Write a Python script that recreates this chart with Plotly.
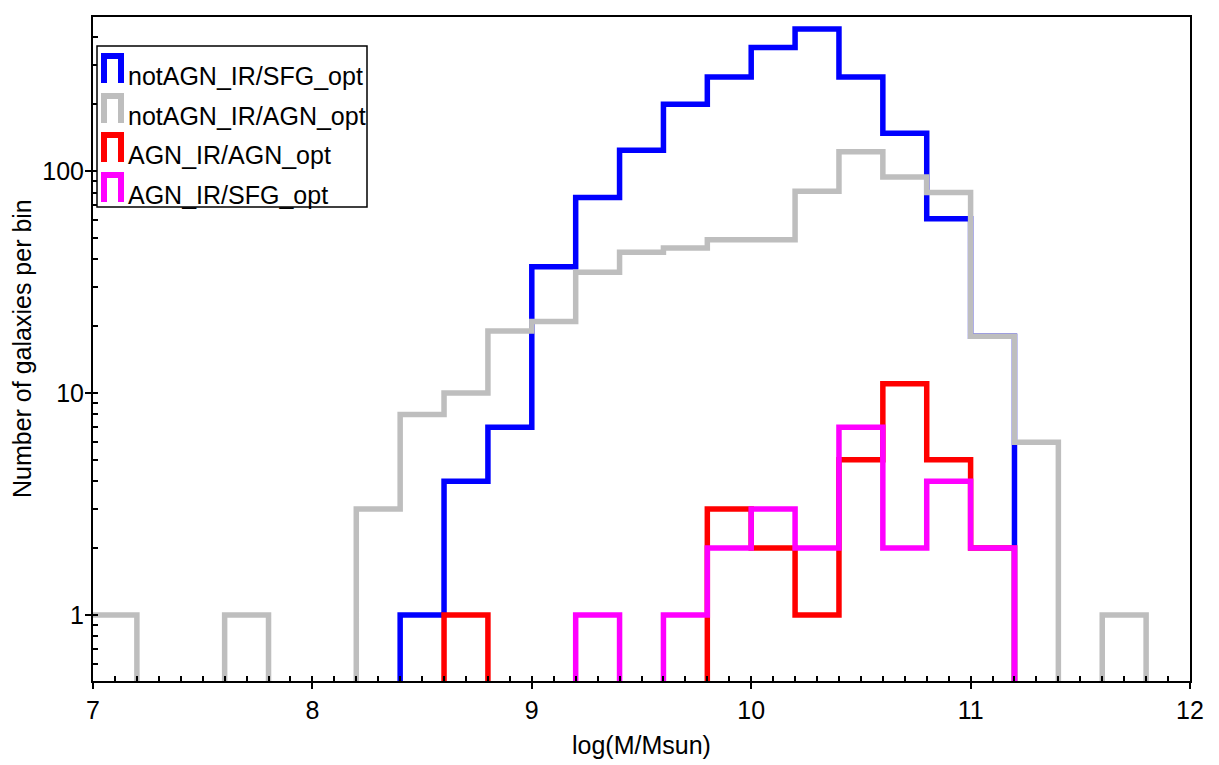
import math
import plotly.graph_objects as go

# ---------------- data ----------------
bin_edges = [round(7.0 + 0.2 * i, 1) for i in range(26)]  # 7.0 ... 12.0

# counts per 0.2-dex bin (left edges 7.0 ... 11.8)
notagn_sfg = [0, 0, 0, 0, 0, 0, 0, 1, 4, 7, 37, 76, 124, 200, 265, 360, 436, 265, 148, 61, 18, 0, 0, 0, 0]
notagn_agn = [1, 0, 0, 1, 0, 0, 3, 8, 10, 19, 21, 35, 43, 45, 49, 49, 81, 122, 94, 80, 18, 6, 0, 1, 0]
agn_agn    = [0, 0, 0, 0, 0, 0, 0, 0, 1, 0, 0, 0, 0, 0, 3, 2, 1, 5, 11, 5, 2, 0, 0, 0, 0]
agn_sfg    = [0, 0, 0, 0, 0, 0, 0, 0, 0, 0, 0, 1, 0, 1, 2, 3, 2, 7, 2, 4, 2, 0, 0, 0, 0]

series_names = ["notAGN_IR/SFG_opt", "notAGN_IR/AGN_opt", "AGN_IR/AGN_opt", "AGN_IR/SFG_opt"]
series_vals = [notagn_sfg, notagn_agn, agn_agn, agn_sfg]
series_colors = ["#0000ff", "#bebebe", "#ff0000", "#ff00ff"]

x_ticks = [7, 8, 9, 10, 11, 12]
y_ticks = [1, 10, 100]
y_minor = [0.6, 0.7, 0.8, 0.9, 2, 3, 4, 5, 6, 7, 8, 9, 20, 30, 40, 50, 60, 70, 80, 90, 200, 300, 400]

FONT = "Liberation Sans, Arial, Helvetica, sans-serif"
FS = 25
W, H = 1219, 765
L, R, T, B = 93, 29, 17, 84
PW, PH = W - L - R, H - T - B

FLOOR = 1e-3  # empty bins fall below the visible range

fig = go.Figure()
for name, vals, col in zip(series_names, series_vals, series_colors):
    ys = [v if v > 0 else FLOOR for v in vals] + [FLOOR]
    fig.add_trace(go.Scatter(x=bin_edges, y=ys, mode="lines", name=name,
                             line=dict(color=col, width=5.5, shape="hv"),
                             showlegend=False, hoverinfo="skip"))

# invisible trace for overlay axes (inside ticks)
fig.add_trace(go.Scatter(x=[7, 12], y=[1, 1], xaxis="x2", yaxis="y2", mode="markers",
                         marker=dict(opacity=0), showlegend=False, hoverinfo="skip"))

yr = [math.log10(0.504), math.log10(494)]

fig.update_layout(
    width=W, height=H,
    margin=dict(l=L, r=R, t=T, b=B),
    paper_bgcolor="white", plot_bgcolor="white",
    font=dict(family=FONT, size=FS, color="black"),
    xaxis=dict(range=[7, 12], tickvals=x_ticks, ticks="outside", ticklen=6, tickwidth=1.5,
               tickcolor="black", showline=True, linewidth=2, linecolor="black", mirror=True,
               showgrid=False, zeroline=False, tickfont=dict(size=FS)),
    yaxis=dict(type="log", range=yr, tickvals=y_ticks, ticktext=[str(v) for v in y_ticks],
               ticks="outside", ticklen=6, tickwidth=1.5, tickcolor="black",
               showline=True, linewidth=2, linecolor="black", mirror=True,
               showgrid=False, zeroline=False, tickfont=dict(size=FS), ticklabelstandoff=-4),
    xaxis2=dict(range=[7, 12], overlaying="x", anchor="y", side="bottom", dtick=0.1, tick0=7,
                ticks="inside", ticklen=5, tickwidth=1.5, tickcolor="black",
                showticklabels=False, showgrid=False, zeroline=False, showline=False),
    yaxis2=dict(type="log", range=yr, overlaying="y", anchor="x", side="left",
                tickmode="array", tickvals=y_minor + y_ticks, ticks="inside", ticklen=5,
                tickwidth=1.5, tickcolor="black", showticklabels=False, showgrid=False,
                zeroline=False, showline=False),
)

def px(xp):
    return (xp - L) / PW

def py(yp):
    return (H - B - yp) / PH

shapes = []
annotations = []
# legend frame
shapes.append(dict(type="rect", xref="paper", yref="paper", x0=px(97), x1=px(367),
                   y0=py(207), y1=py(46), line=dict(color="black", width=1.5),
                   fillcolor="white", layer="above"))
icon_tops = [56, 96, 135, 175]
for name, col, top in zip(series_names, series_colors, icon_tops):
    x0, x1 = px(104), px(121)
    ytop, ybot = py(top), py(top + 27)
    shapes.append(dict(type="path", xref="paper", yref="paper",
                       path=f"M {x0},{ybot} L {x0},{ytop} L {x1},{ytop} L {x1},{ybot}",
                       line=dict(color=col, width=6), layer="above"))
    annotations.append(dict(text=name, xref="paper", yref="paper", x=px(126), y=py(top + 20),
                            xanchor="left", yanchor="middle", showarrow=False,
                            font=dict(family=FONT, size=FS, color="black")))

annotations.append(dict(text="log(M/Msun)", xref="paper", yref="paper", x=0.5, y=py(745),
                        xanchor="center", yanchor="middle", showarrow=False,
                        font=dict(family=FONT, size=FS, color="black")))
annotations.append(dict(text="Number of galaxies per bin", xref="paper", yref="paper",
                        x=px(22), y=0.5, xanchor="center", yanchor="middle", textangle=-90,
                        showarrow=False, font=dict(family=FONT, size=FS, color="black")))

fig.update_layout(shapes=shapes, annotations=annotations)
fig.write_html("out.html")
